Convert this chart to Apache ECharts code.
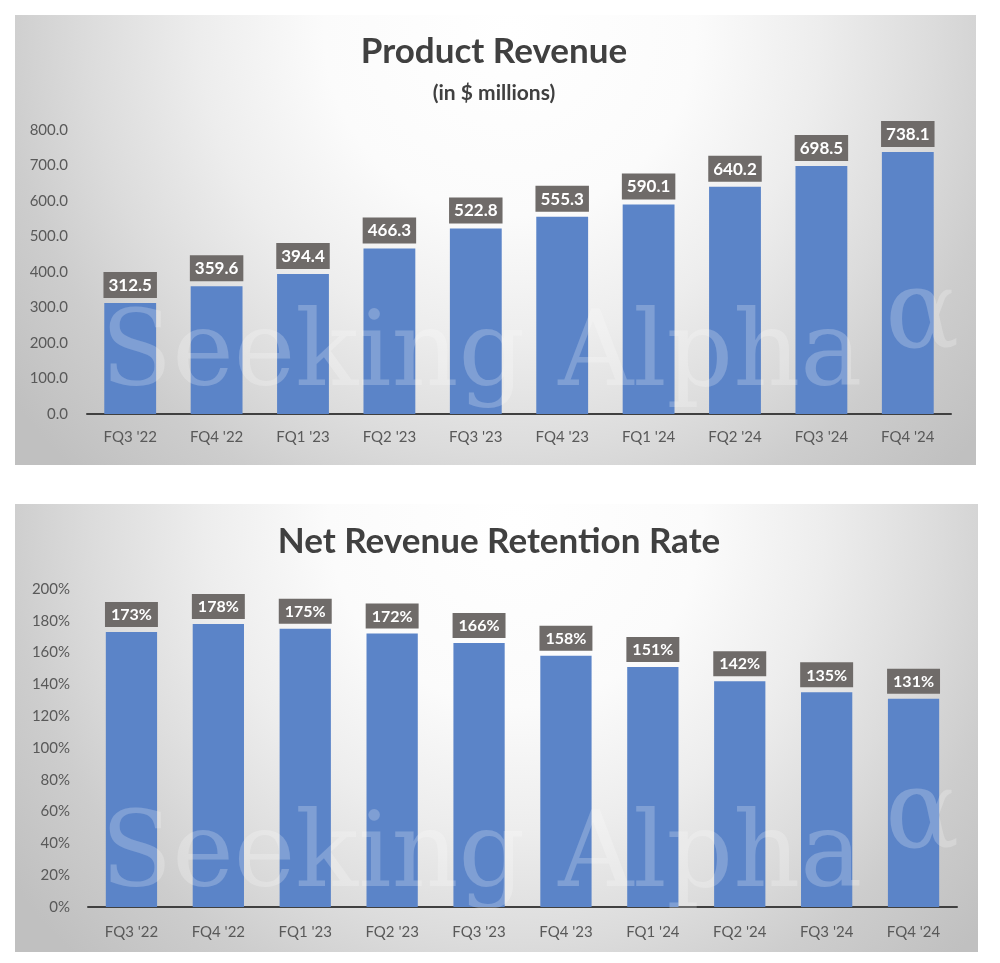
<!DOCTYPE html>
<html>
<head>
<meta charset="utf-8">
<script src="https://cdn.jsdelivr.net/npm/echarts@6/dist/echarts.min.js"></script>
<style>
html,body{margin:0;padding:0;background:#ffffff;}
#chart{width:1000px;height:963px;}
</style>
</head>
<body>
<div id="chart"></div>
<script>
const categories = ["FQ3 '22","FQ4 '22","FQ1 '23","FQ2 '23","FQ3 '23","FQ4 '23","FQ1 '24","FQ2 '24","FQ3 '24","FQ4 '24"];
const productRevenue = [312.5, 359.6, 394.4, 466.3, 522.8, 555.3, 590.1, 640.2, 698.5, 738.1];
const netRetention = [173, 178, 175, 172, 166, 158, 151, 142, 135, 131];
const revenueTicks = {min: 0, max: 800, interval: 100};
const retentionTicks = {min: 0, max: 200, interval: 20};

const FONT = 'Lato, "Open Sans", sans-serif';
const BAR = '#5b84c8';
const LABEL_BG = '#6f6b69';

function panelBg(x, y, w, h, cx, cy) {
  return {
    type: 'rect', z: -10, silent: true,
    shape: {x: x, y: y, width: w, height: h},
    style: {
      fill: {
        type: 'radial', x: cx, y: cy, r: 620, global: true,
        colorStops: [
          {offset: 0, color: '#ffffff'},
          {offset: 0.3, color: '#fbfbfb'},
          {offset: 0.5, color: '#ededed'},
          {offset: 0.68, color: '#dcdcdc'},
          {offset: 0.82, color: '#cdcdcd'},
          {offset: 1, color: '#c0c0c0'}
        ]
      }
    }
  };
}
function watermark(y, ay) {
  return [
    {type: 'text', z: 100, silent: true, x: 101, y: y,
     style: {text: 'Seeking Alpha', font: '104px "DejaVu Serif", serif', fill: 'rgba(255,255,255,0.22)', verticalAlign: 'middle', align: 'left'}},
    {type: 'text', z: 100, silent: true, x: 885, y: ay,
     style: {text: 'α', font: '110px "DejaVu Serif", serif', fill: 'rgba(255,255,255,0.22)', verticalAlign: 'middle', align: 'left'}}
  ];
}

const chart = echarts.init(document.getElementById('chart'), null, {renderer: 'canvas'});
const axisLabelStyle = {color: '#595959', fontSize: 15, fontFamily: FONT};

chart.setOption({
  animation: false,
  backgroundColor: '#ffffff',
  title: [
    {text: 'Product Revenue', subtext: '(in $ millions)', left: 494, top: 33, textAlign: 'center', padding: 0, itemGap: 10,
     textStyle: {fontFamily: FONT, fontWeight: 'bold', fontSize: 35, lineHeight: 38, color: '#404040'},
     subtextStyle: {fontFamily: FONT, fontWeight: 'bold', fontSize: 21, lineHeight: 24, color: '#404040'}},
    {text: 'Net Revenue Retention Rate', left: 499, top: 523, textAlign: 'center', padding: 0,
     textStyle: {fontFamily: FONT, fontWeight: 'bold', fontSize: 35, lineHeight: 38, color: '#404040'}}
  ],
  graphic: [
    panelBg(15, 15, 961, 450, 510, 30),
    panelBg(15, 504, 963, 448, 515, 520)
  ].concat(watermark(358, 318)).concat(watermark(859, 818)),
  grid: [
    {left: 87, right: 49, top: 130, bottom: 549},
    {left: 88, right: 43, top: 589, bottom: 56}
  ],
  xAxis: [
    {type: 'category', gridIndex: 0, data: categories,
     axisLine: {lineStyle: {color: '#404040', width: 2}}, axisTick: {show: false},
     axisLabel: Object.assign({margin: 16}, axisLabelStyle)},
    {type: 'category', gridIndex: 1, data: categories,
     axisLine: {lineStyle: {color: '#404040', width: 2}}, axisTick: {show: false},
     axisLabel: Object.assign({margin: 18}, axisLabelStyle)}
  ],
  yAxis: [
    {type: 'value', gridIndex: 0, min: revenueTicks.min, max: revenueTicks.max, interval: revenueTicks.interval,
     axisLine: {show: false}, axisTick: {show: false}, splitLine: {show: false},
     axisLabel: Object.assign({margin: 19, formatter: v => v.toFixed(1)}, axisLabelStyle)},
    {type: 'value', gridIndex: 1, min: retentionTicks.min, max: retentionTicks.max, interval: retentionTicks.interval,
     axisLine: {show: false}, axisTick: {show: false}, splitLine: {show: false},
     axisLabel: Object.assign({margin: 18, formatter: v => v + '%'}, axisLabelStyle)}
  ],
  series: [
    {type: 'bar', xAxisIndex: 0, yAxisIndex: 0, data: productRevenue, barWidth: '60%',
     itemStyle: {color: BAR},
     label: {show: true, position: 'top', distance: 5, formatter: p => p.value.toFixed(1),
       color: '#ffffff', fontFamily: FONT, fontWeight: 'bold', fontSize: 17,
       backgroundColor: LABEL_BG, padding: [5, 5, 4, 5]}},
    {type: 'bar', xAxisIndex: 1, yAxisIndex: 1, data: netRetention, barWidth: '59%',
     itemStyle: {color: BAR},
     label: {show: true, position: 'top', distance: 5, formatter: p => p.value + '%',
       color: '#ffffff', fontFamily: FONT, fontWeight: 'bold', fontSize: 16,
       backgroundColor: LABEL_BG, padding: [5, 6, 4, 6]}}
  ]
});
</script>
</body>
</html>
